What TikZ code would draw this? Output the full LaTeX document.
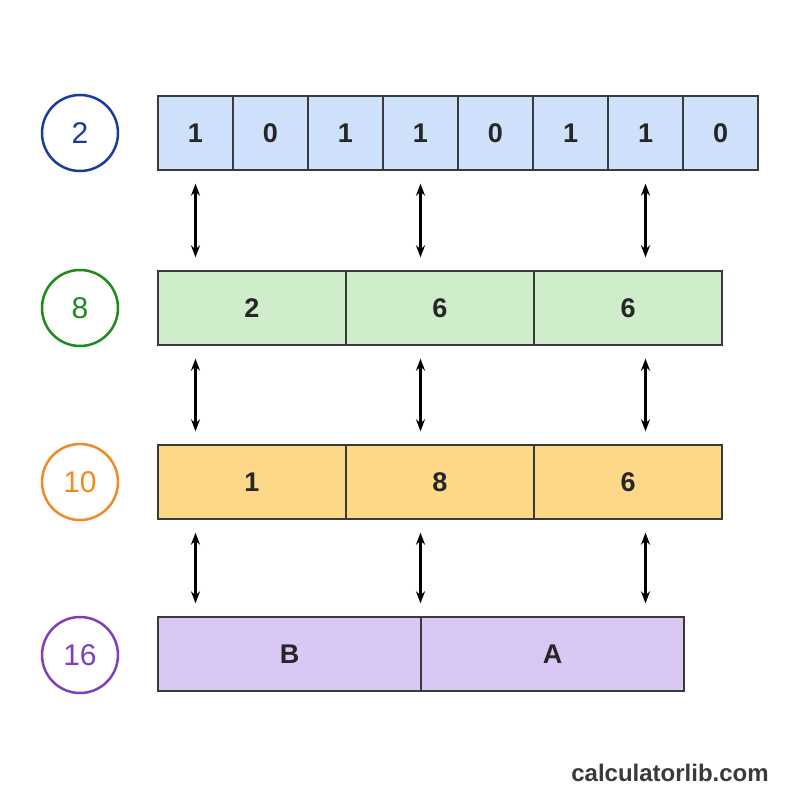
\documentclass[tikz,border=0pt]{standalone}
\usepackage{fontspec}
\setmainfont{Liberation Sans}
\usetikzlibrary{arrows.meta, positioning}
\definecolor{binfill}{HTML}{CFE0FB}
\definecolor{octfill}{HTML}{CFECCB}
\definecolor{decfill}{HTML}{FDD888}
\definecolor{hexfill}{HTML}{D9C8F3}
\definecolor{binline}{HTML}{1A3AA0}
\definecolor{octline}{HTML}{1E8A1E}
\definecolor{decline}{HTML}{F08A24}
\definecolor{hexline}{HTML}{7B3FBF}
\definecolor{cellline}{HTML}{3A3A3A}
\begin{document}
\begin{tikzpicture}[x=1pt,y=-1pt,
    cell/.style={draw=cellline, line width=1.3pt, minimum height=74pt, inner sep=0,
      text=black!85, font=\bfseries\fontsize{27}{27}\selectfont},
    base/.style={circle, draw=#1, line width=2.5pt, fill=white, minimum size=76pt,
      inner sep=0, text=#1, font=\fontsize{30}{30}\selectfont},
    link/.style={{Stealth[length=12pt,width=9pt]}-{Stealth[length=12pt,width=9pt]},
      line width=2.2pt, shorten <=13pt, shorten >=13pt}
  ]
    \useasboundingbox (0,0) rectangle (800,800);
    % base labels
    \node[base=binline] (n2) at (80,133) {2};
    \node[base=octline] (n8) at (80,308) {8};
    \node[base=decline] (n10) at (80,482) {10};
    \node[base=hexline] (n16) at (80,655) {16};
    % binary row
    \foreach \d [count=\i] in {1,0,1,1,0,1,1,0}
      \node[cell, fill=binfill, minimum width=75pt] (b\i) at (120.5+75*\i,133) {\d};
    % octal row
    \foreach \d [count=\i] in {2,6,6}
      \node[cell, fill=octfill, minimum width=188pt] (o\i) at (64+188*\i,308) {\d};
    % decimal row
    \foreach \d [count=\i] in {1,8,6}
      \node[cell, fill=decfill, minimum width=188pt] (d\i) at (64+188*\i,482) {\d};
    % hex row
    \foreach \d [count=\i] in {B,A}
      \node[cell, fill=hexfill, minimum width=263pt] (h\i) at (26.5+263*\i,654) {\d};
    % arrows
    \foreach \c in {1,4,7} {
      \draw[link] (b\c.south) -- (b\c.south |- o1.north);
      \draw[link] (b\c.south |- o1.south) -- (b\c.south |- d1.north);
      \draw[link] (b\c.south |- d1.south) -- (b\c.south |- h1.north);
    }
    \node[text=cellline, font=\bfseries\fontsize{24}{24}\selectfont] (site) at (670,773) {calculatorlib.com};
\end{tikzpicture}
\end{document}
